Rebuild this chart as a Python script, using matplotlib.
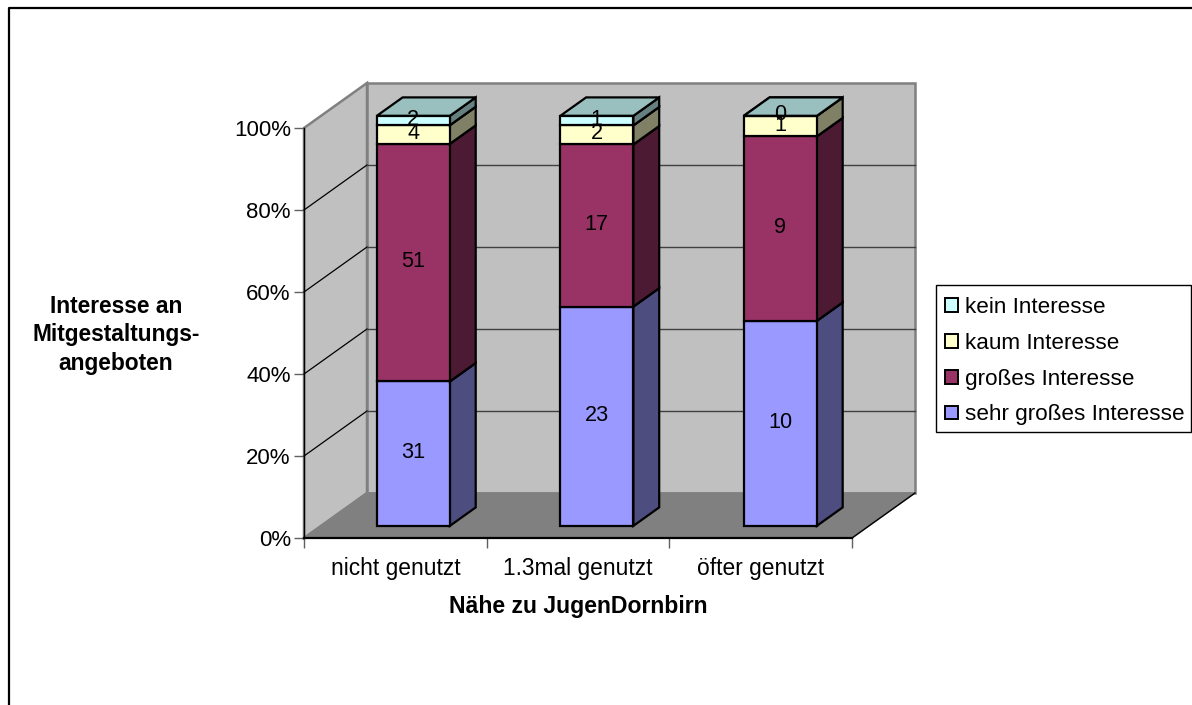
import numpy as np
import matplotlib
matplotlib.use("Agg")
import matplotlib.pyplot as plt
from matplotlib.patches import Polygon, Patch, Rectangle
from matplotlib.lines import Line2D

plt.rcParams['font.family'] = ['Liberation Sans', 'DejaVu Sans']

categories = ["nicht genutzt", "1.3mal genutzt", "öfter genutzt"]
series_names = ["sehr großes Interesse", "großes Interesse", "kaum Interesse", "kein Interesse"]
sehr_gross = [31, 23, 10]
gross = [51, 17, 9]
kaum = [4, 2, 1]
kein = [2, 1, 0]

front_colors = ["#9999FF", "#993366", "#FFFFCC", "#CCFFFF"]
side_colors = ["#4D4D80", "#4D1A33", "#808066", "#668080"]
top_colors = ["#7373BF", "#73264D", "#BFBF99", "#99BFBF"]

W, H = 1192, 705
AX_L, AX_R, AX_T, AX_B = 304, 852, 128, 538

# how far the back wall sits from the front plane, in data units
DEPTH_X = 63 / ((AX_R - AX_L) / 3)
DEPTH_Y = 45 / ((AX_B - AX_T) / 100)
BAR_WIDTH = 0.40
BAR_FRONT = 0.27
BAR_BACK = 0.68
BAR_STEP = 1.0045
BAR_SHIFT = 0.0055


def proj(x, y, d):
    return (x + d * DEPTH_X, y + d * DEPTH_Y)


def face(ax, pts, color, lw=1.6, ec="black", z=3):
    ax.add_patch(Polygon([proj(*p) for p in pts], closed=True, facecolor=color,
                         edgecolor=ec, linewidth=lw, clip_on=False, zorder=z,
                         joinstyle="miter"))


def draw_walls(ax):
    n = len(categories)
    face(ax, [(0, 0, 0), (0, 0, 1), (0, 100, 1), (0, 100, 0)], "#C0C0C0", ec="#808080", lw=1.8, z=1)
    face(ax, [(0, 0, 1), (n, 0, 1), (n, 100, 1), (0, 100, 1)], "#C0C0C0", ec="#808080", lw=1.8, z=1)
    face(ax, [(0, 0, 0), (n, 0, 0), (n, 0, 1), (0, 0, 1)], "#808080", ec="#808080", lw=1.0, z=1)
    for p in [20, 40, 60, 80]:
        a, b = proj(0, p, 0), proj(0, p, 1)
        c = proj(n, p, 1)
        ax.add_line(Line2D([a[0], b[0]], [a[1], b[1]], color="black", lw=0.9, clip_on=False, zorder=2))
        ax.add_line(Line2D([b[0], c[0]], [b[1], c[1]], color="#404040", lw=1.0, clip_on=False, zorder=2))
    # floor edge that stands out against the white background
    a, b = proj(n, 0, 0), proj(n, 0, 1)
    ax.add_line(Line2D([a[0], b[0]], [a[1], b[1]], color="black", lw=1.0, clip_on=False, zorder=2))


def draw_bars(ax):
    data = np.array([sehr_gross, gross, kaum, kein], dtype=float)
    shares = data / data.sum(axis=0) * 100
    for i in range(len(categories)):
        xc = i * BAR_STEP + 0.5 + BAR_SHIFT
        x0 = xc - BAR_WIDTH / 2
        x1 = xc + BAR_WIDTH / 2
        bottom = 0
        labels = []
        for s in range(len(series_names)):
            top = bottom + shares[s, i]
            f, b = BAR_FRONT, BAR_BACK
            z = 3 + s * 0.1
            face(ax, [(x1, bottom, f), (x1, bottom, b), (x1, top, b), (x1, top, f)], side_colors[s], z=z)
            face(ax, [(x0, top, f), (x1, top, f), (x1, top, b), (x0, top, b)], top_colors[s], z=z)
            face(ax, [(x0, bottom, f), (x1, bottom, f), (x1, top, f), (x0, top, f)], front_colors[s], z=z)
            labels.append((proj(xc, (bottom + top) / 2, f), int(data[s, i])))
            bottom = top
        for pos, val in labels:
            ax.annotate(str(val), pos, xytext=(0, 1), textcoords="offset pixels",
                        ha="center", va="center", fontsize=15.6, color="black",
                        zorder=10, annotation_clip=False)


def main():
    fig = plt.figure(figsize=(W / 100, H / 100), dpi=100, facecolor="white")

    # chart area frame, runs past the lower edge
    fig.add_artist(Line2D([8.5 / W, 8.5 / W, 1192 / W], [0, 1 - 7.5 / H, 1 - 7.5 / H],
                          color="black", lw=1.6))

    ax = fig.add_axes([AX_L / W, 1 - AX_B / H, (AX_R - AX_L) / W, (AX_B - AX_T) / H])
    ax.patch.set_visible(False)
    ax.set_xlim(0, len(categories))
    ax.set_ylim(0, 100)
    for side in ["top", "right"]:
        ax.spines[side].set_visible(False)
    ax.spines["left"].set_linewidth(1.0)
    ax.spines["left"].set_zorder(2.5)
    ax.spines["bottom"].set_linewidth(1.6)

    ax.set_yticks(range(0, 101, 20))
    ax.set_yticklabels([f"{p}%" for p in range(0, 101, 20)], fontsize=16)
    ax.set_xticks(range(len(categories) + 1))
    ax.set_xticklabels([])
    ax.set_xticks(np.arange(len(categories)) + 0.5, minor=True)
    ax.set_xticklabels(categories, minor=True, fontsize=16.4)
    ax.tick_params(axis="x", which="major", length=7.5, width=1.0, color="#606060")
    ax.tick_params(axis="x", which="minor", length=0, pad=14)
    ax.tick_params(axis="y", length=7, width=1.0, color="#606060", pad=2.5)

    draw_walls(ax)
    draw_bars(ax)

    ax.set_xlabel("Nähe zu JugenDornbirn", fontsize=16.6, fontweight="bold")
    ax.xaxis.set_label_coords(0.5, (AX_B - 607) / (AX_B - AX_T), transform=ax.transAxes)
    ax.xaxis.label.set_va("center")
    ax.set_ylabel("Interesse an\nMitgestaltungs-\nangeboten", fontsize=16.4, fontweight="bold",
                  rotation=0, ha="center", va="center", linespacing=1.33)
    ax.yaxis.set_label_coords((116 - AX_L) / (AX_R - AX_L), (AX_B - 335) / (AX_B - AX_T))

    # legend box is drawn separately so its width stays inside the figure
    fig.add_artist(Rectangle((935.5 / W, 1 - 432 / H), 255 / W, 147 / H, transform=fig.transFigure,
                             facecolor="white", edgecolor="black", linewidth=1.0))
    handles = [Patch(facecolor=c, edgecolor="black", linewidth=1.4) for c in front_colors[::-1]]
    fig.legend(handles, series_names[::-1], loc="lower left",
               bbox_to_anchor=(936 / W, 1 - 434.5 / H, 255 / W, 147 / H),
               fontsize=16.2, frameon=False, borderaxespad=0,
               handlelength=0.56, handleheight=0.56, handletextpad=0.34,
               labelspacing=0.66, borderpad=0.4)

    fig.savefig("out.png", dpi=100, facecolor="white")


if __name__ == "__main__":
    main()
